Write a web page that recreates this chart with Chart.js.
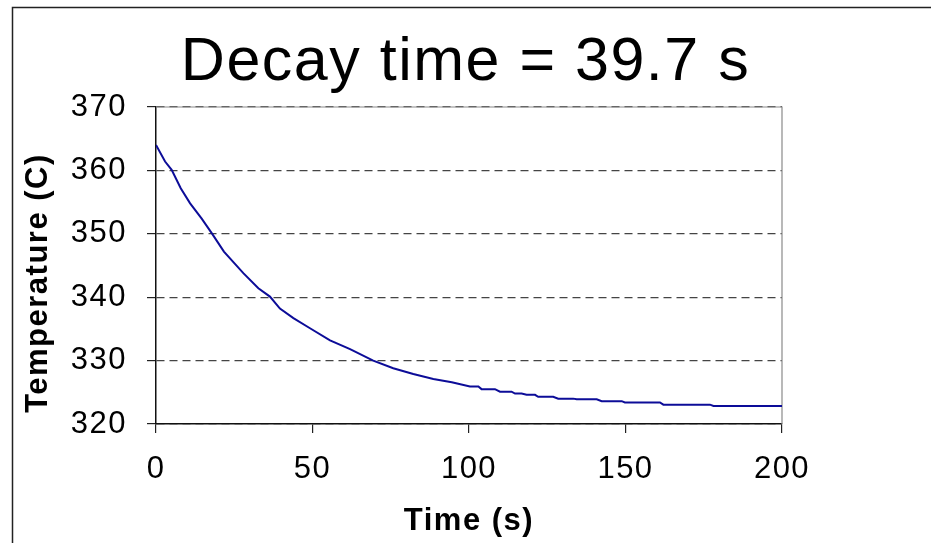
<!DOCTYPE html>
<html>
<head>
<meta charset="utf-8">
<script src="https://cdn.jsdelivr.net/npm/chart.js@4.4.0/dist/chart.umd.min.js"></script>
<style>
  html, body { margin: 0; padding: 0; background: #fff; overflow: hidden; }
  canvas { display: block; }
</style>
</head>
<body>
<canvas id="decay-chart" width="931" height="543"></canvas>
<script>
// valores
const timeValues = [0, 2.9, 5.0, 7.9, 10.9, 14.6, 17.8, 21.7, 27.9, 32.7,
    36.4, 39.6, 43.9, 49.2, 55.6, 62.0, 69.4, 75.8, 82.2, 88.6,
    94.5, 100.3, 103.0, 104.0, 108.3, 109.9, 113.6, 114.7, 116.8, 118.4,
    121.1, 122.1, 126.9, 128.5, 133.3, 134.4, 140.8, 142.4, 148.8, 149.8,
    161.0, 162.1, 177.0, 178.1, 200];
const tempValues = [364.0, 361.4, 360.1, 357.2, 354.8, 352.4, 350.1, 347.2, 343.8, 341.4,
    340.1, 338.2, 336.7, 335.1, 333.2, 331.8, 330.0, 328.8, 327.9, 327.1,
    326.6, 325.9, 325.9, 325.5, 325.5, 325.1, 325.1, 324.8, 324.8, 324.6,
    324.6, 324.3, 324.3, 324.0, 324.0, 323.9, 323.9, 323.6, 323.6, 323.4,
    323.4, 323.05, 323.05, 322.85, 322.85];
const xTicks = [0, 50, 100, 150, 200];
const yTicks = [320, 330, 340, 350, 360, 370];
const chartTitle = 'Decay time = 39.7 s';
const xTitle = 'Time (s)';
const yTitle = 'Temperature (C)';

const FONT = "'Liberation Sans', Arial, sans-serif";

// moldura externa, borda da área do gráfico e título do eixo Y
const framePlugin = {
    id: 'frame',
    beforeLayout(chart) {
        chart.ctx.letterSpacing = '1.5px';
    },
    beforeDraw(chart) {
        const ctx = chart.ctx;
        ctx.letterSpacing = '1.5px';
        ctx.save();
        ctx.strokeStyle = '#222';
        ctx.lineWidth = 1.5;
        ctx.beginPath();
        ctx.moveTo(12.5, 543);
        ctx.lineTo(12.5, 7.5);
        ctx.lineTo(931, 7.5);
        ctx.stroke();
        ctx.restore();
    },
    beforeDatasetsDraw(chart) {
        const a = chart.chartArea;
        const ctx = chart.ctx;
        ctx.save();
        ctx.strokeStyle = '#8a8a8a';
        ctx.lineWidth = 1.2;
        ctx.beginPath();
        ctx.moveTo(a.left, a.top);
        ctx.lineTo(a.right, a.top);
        ctx.lineTo(a.right, a.bottom);
        ctx.stroke();
        ctx.restore();
    },
    afterDraw(chart) {
        const ctx = chart.ctx;
        ctx.save();
        ctx.translate(38.5, 283);
        ctx.rotate(-Math.PI / 2);
        ctx.font = 'bold 31px ' + FONT;
        ctx.fillStyle = '#000';
        ctx.textAlign = 'center';
        ctx.textBaseline = 'middle';
        ctx.fillText(yTitle, 0, 0);
        ctx.restore();
    }
};

const ctx = document.getElementById('decay-chart').getContext('2d');

new Chart(ctx, {
    type: 'line',
    data: {
        datasets: [{
            data: timeValues.map((t, i) => ({ x: t, y: tempValues[i] })),
            borderColor: '#0c0c98',
            borderWidth: 2,
            pointRadius: 0,
            tension: 0
        }]
    },
    options: {
        responsive: false,
        animation: false,
        layout: { padding: 0 },
        plugins: {
            legend: { display: false },
            tooltip: { enabled: false },
            title: {
                display: true,
                text: chartTitle,
                color: '#000',
                font: { family: FONT, size: 61, weight: 'normal', lineHeight: 1.2 },
                padding: { top: 27, bottom: 6.8 }
            }
        },
        scales: {
            x: {
                type: 'linear',
                min: 0,
                max: 200,
                afterFit: s => { s.height = 119; },
                afterBuildTicks: s => { s.ticks = xTicks.map(v => ({ value: v })); },
                grid: {
                    drawOnChartArea: false,
                    tickLength: 9,
                    color: '#222',
                    lineWidth: 1.2
                },
                border: { display: true, color: '#111', width: 1.5 },
                ticks: {
                    color: '#000',
                    padding: 17.4,
                    maxRotation: 0,
                    font: { family: FONT, size: 31 }
                },
                title: {
                    display: true,
                    text: xTitle,
                    color: '#000',
                    font: { family: FONT, size: 31, weight: 'bold', lineHeight: 1.2 },
                    padding: { top: 3, bottom: 3 }
                }
            },
            y: {
                min: 320,
                max: 370,
                afterFit: s => { s.width = 156; },
                afterBuildTicks: s => { s.ticks = yTicks.map(v => ({ value: v })); },
                grid: {
                    color: '#444',
                    lineWidth: 1.2,
                    tickLength: 9,
                    tickColor: '#222',
                    tickBorderDash: []
                },
                border: { display: true, color: '#111', width: 1.5, dash: [8, 5] },
                ticks: {
                    color: '#000',
                    padding: 20,
                    font: { family: FONT, size: 31 }
                }
            },
            // eixo vazio só para reservar o espaço à direita
            yRight: {
                position: 'right',
                afterFit: s => { s.width = 149; },
                ticks: { display: false },
                grid: { display: false },
                border: { display: false }
            }
        }
    },
    plugins: [framePlugin]
});
</script>
</body>
</html>
